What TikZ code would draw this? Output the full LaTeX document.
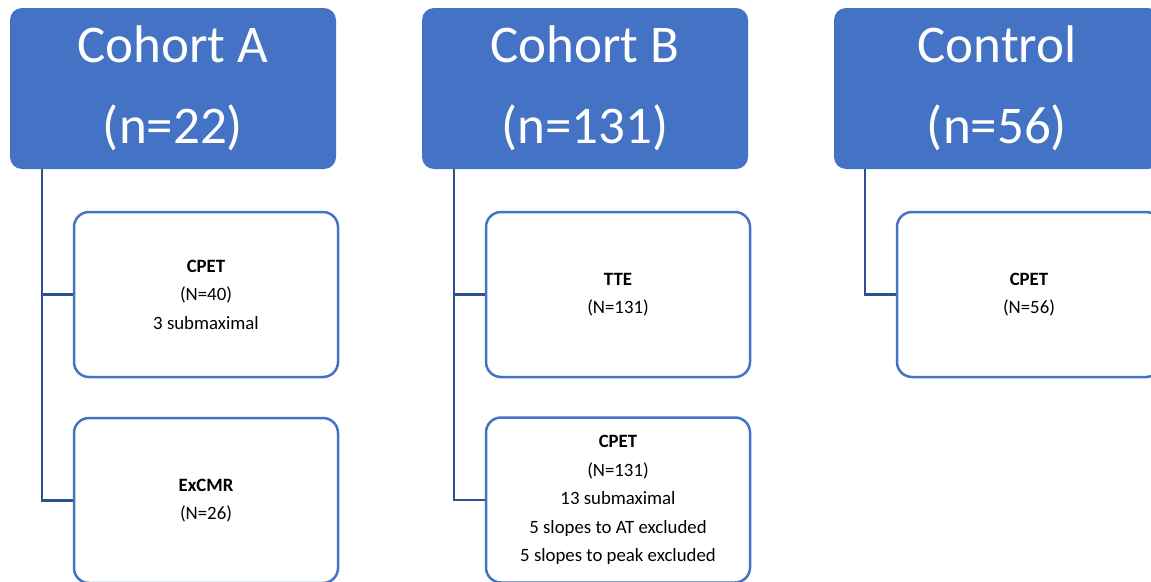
\documentclass[tikz,border=0pt]{standalone}
\usepackage{fontspec}
\setmainfont{Carlito}
\definecolor{hdrblue}{RGB}{68,114,196}
\definecolor{linkblue}{RGB}{47,82,143}
\begin{document}
\begin{tikzpicture}[x=1pt,y=-1pt,
  header/.style={rectangle, rounded corners=12pt, fill=hdrblue, text=white,
    minimum width=326pt, minimum height=161pt, inner sep=0pt, align=center,
    font=\fontsize{53}{81.5}\selectfont},
  child/.style={rectangle, rounded corners=15pt, draw=hdrblue, line width=2.5pt, fill=white,
    minimum width=264pt, minimum height=165pt, inner sep=0pt, align=center,
    font=\fontsize{18.8}{28.5}\selectfont},
  link/.style={draw=linkblue, line width=2.8pt}]
\useasboundingbox (0,0) rectangle (1151,581);
\clip (0,0) rectangle (1151,581);
% headers
\node[header] (hA) at (173,88.5) {Cohort A\\(n=22)};
\node[header] (hB) at (585,88.5) {Cohort B\\(n=131)};
\node[header] (hC) at (997,88.5) {Control\\(n=56)};
% children
\node[child] (a1) at (206,294.5) {\textbf{CPET}\\(N=40)\\3 submaximal};
\node[child] (a2) at (206,500.5) {\textbf{ExCMR}\\(N=26)};
\node[child] (b1) at (618,294.5) {\textbf{TTE}\\(N=131)};
\node[child] (b2) at (618,500) {\textbf{CPET}\\(N=131)\\13 submaximal\\5 slopes to AT excluded\\5 slopes to peak excluded};
\node[child] (c1) at (1029,294.5) {\textbf{CPET}\\(N=56)};
% connector origins
\coordinate (tA) at (42,169);
\coordinate (tB) at (454,169);
\coordinate (tC) at (865,169);
% connectors
\draw[link] (tA) |- (a2.west);
\draw[link] (a1.west) -- (a1.west -| tA);
\draw[link] (tB) |- (b2.west);
\draw[link] (b1.west) -- (b1.west -| tB);
\draw[link] (tC) |- (c1.west);
\end{tikzpicture}
\end{document}
